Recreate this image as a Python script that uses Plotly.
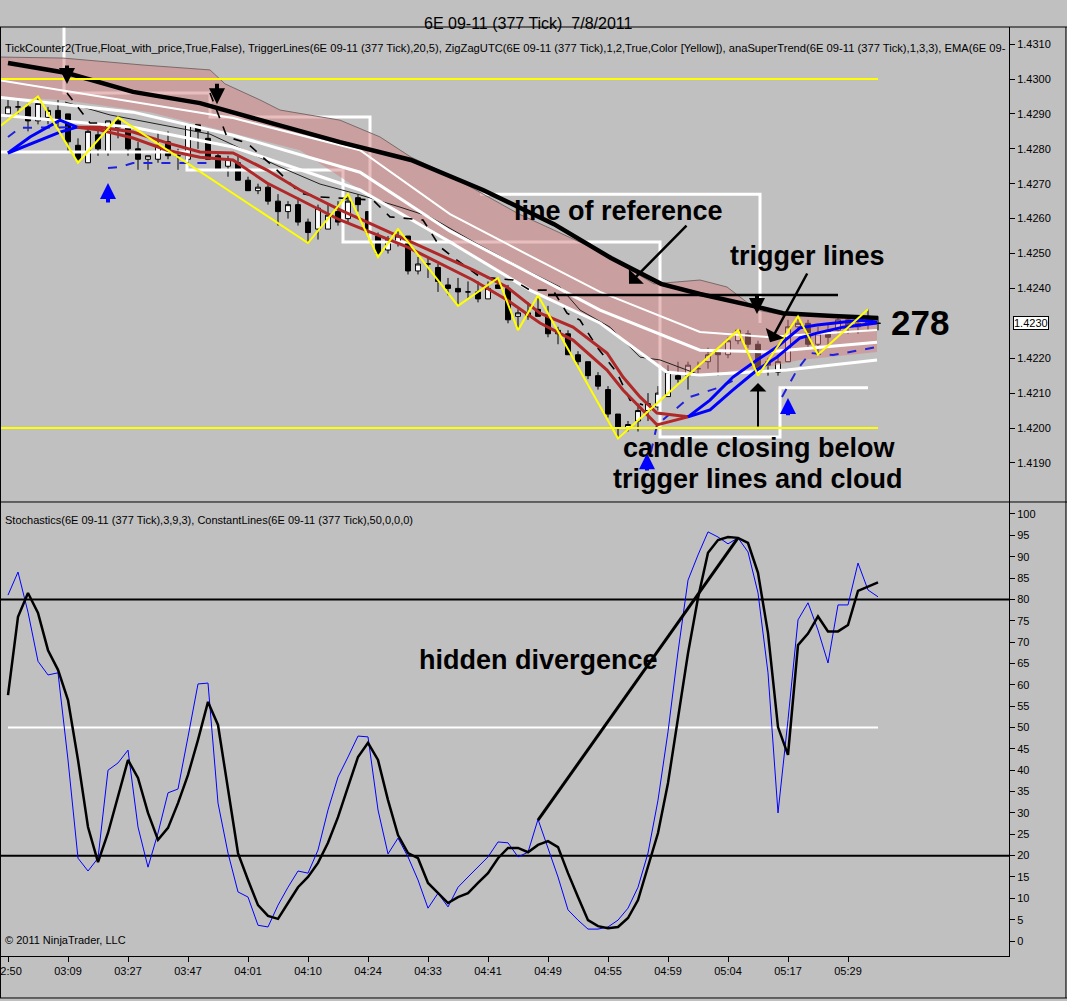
import plotly.graph_objects as go

# ---------------------------------------------------------------------------
# 6E 09-11 (377 Tick) 7/8/2011
# x = bar number (one bar per 377 ticks), time label every 6 bars
# ---------------------------------------------------------------------------
tick_bars = [0, 6, 12, 18, 24, 30, 36, 42, 48, 54, 60, 66, 72, 78, 84]
tick_text = ["02:50", "03:09", "03:27", "03:47", "04:01", "04:10", "04:24", "04:33",
             "04:41", "04:49", "04:55", "04:59", "05:04", "05:17", "05:29"]
price_ticks = [1.4190, 1.4200, 1.4210, 1.4220, 1.4240, 1.4250, 1.4260, 1.4270, 1.4280,
               1.4290, 1.4300, 1.4310]
last_price = 1.4230

bar_open = [1.4290, 1.4292, 1.4292, 1.4288, 1.4289, 1.4291, 1.4290, 1.4281, 1.4276, 1.4284,
            1.4279, 1.4288, 1.4286, 1.4280, 1.4277, 1.4277, 1.4282, 1.4278, 1.4277, 1.4287,
            1.4283, 1.4278, 1.4275, 1.4276, 1.4271, 1.4268, 1.4269, 1.4265, 1.4262, 1.4264,
            1.4259, 1.4257, 1.4257, 1.4262, 1.4260, 1.4266, 1.4262, 1.4255, 1.4251, 1.4253,
            1.4255, 1.4245, 1.4247, 1.4246, 1.4241, 1.4240, 1.4239, 1.4239, 1.4237, 1.4241,
            1.4240, 1.4232, 1.4232, 1.4234, 1.4232, 1.4227, 1.4227, 1.4221, 1.4219, 1.4215,
            1.4211, 1.4204, 1.4200, 1.4202, 1.4205, 1.4206, 1.4209, 1.4215, 1.4215, 1.4217,
            1.4219, 1.4222, 1.4221, 1.4225, 1.4227, 1.4224, 1.4219, 1.4216, 1.4219, 1.4229,
            1.4230, 1.4224, 1.4228, 1.4228, 1.4231, 1.4229, 1.4232, 1.4230]
bar_high = [1.4294, 1.4294, 1.4293, 1.4295, 1.4292, 1.4294, 1.4290, 1.4283, 1.4286, 1.4286,
            1.4288, 1.4289, 1.4286, 1.4282, 1.4278, 1.4285, 1.4285, 1.4280, 1.4287, 1.4287,
            1.4285, 1.4279, 1.4278, 1.4278, 1.4272, 1.4270, 1.4270, 1.4267, 1.4265, 1.4266,
            1.4260, 1.4264, 1.4264, 1.4265, 1.4267, 1.4267, 1.4262, 1.4256, 1.4255, 1.4257,
            1.4255, 1.4249, 1.4249, 1.4247, 1.4243, 1.4243, 1.4242, 1.4242, 1.4242, 1.4243,
            1.4241, 1.4234, 1.4236, 1.4238, 1.4235, 1.4229, 1.4228, 1.4222, 1.4219, 1.4216,
            1.4212, 1.4204, 1.4202, 1.4207, 1.4210, 1.4212, 1.4218, 1.4219, 1.4219, 1.4219,
            1.4223, 1.4223, 1.4226, 1.4228, 1.4228, 1.4225, 1.4220, 1.4221, 1.4231, 1.4232,
            1.4231, 1.4229, 1.4230, 1.4232, 1.4232, 1.4232, 1.4234, 1.4232]
bar_low = [1.4289, 1.4290, 1.4285, 1.4287, 1.4287, 1.4286, 1.4279, 1.4276, 1.4276, 1.4278,
           1.4278, 1.4283, 1.4278, 1.4274, 1.4274, 1.4276, 1.4277, 1.4274, 1.4276, 1.4280,
           1.4277, 1.4274, 1.4272, 1.4271, 1.4268, 1.4267, 1.4264, 1.4258, 1.4260, 1.4258,
           1.4253, 1.4254, 1.4257, 1.4258, 1.4259, 1.4262, 1.4255, 1.4249, 1.4250, 1.4252,
           1.4244, 1.4244, 1.4243, 1.4239, 1.4238, 1.4235, 1.4237, 1.4236, 1.4237, 1.4240,
           1.4230, 1.4228, 1.4231, 1.4232, 1.4226, 1.4224, 1.4221, 1.4218, 1.4214, 1.4211,
           1.4203, 1.4197, 1.4199, 1.4199, 1.4202, 1.4205, 1.4209, 1.4213, 1.4211, 1.4215,
           1.4217, 1.4215, 1.4220, 1.4224, 1.4223, 1.4215, 1.4215, 1.4215, 1.4219, 1.4228,
           1.4223, 1.4221, 1.4224, 1.4227, 1.4227, 1.4227, 1.4228, 1.4228]
bar_close = [1.4292, 1.4292, 1.4288, 1.4293, 1.4291, 1.4288, 1.4282, 1.4277, 1.4285, 1.4280,
             1.4288, 1.4286, 1.4280, 1.4277, 1.4278, 1.4281, 1.4278, 1.4278, 1.4287, 1.4285,
             1.4277, 1.4274, 1.4277, 1.4271, 1.4268, 1.4269, 1.4265, 1.4262, 1.4264, 1.4259,
             1.4256, 1.4263, 1.4261, 1.4259, 1.4265, 1.4264, 1.4256, 1.4250, 1.4254, 1.4255,
             1.4245, 1.4247, 1.4247, 1.4242, 1.4240, 1.4239, 1.4239, 1.4237, 1.4240, 1.4240,
             1.4231, 1.4233, 1.4233, 1.4232, 1.4227, 1.4228, 1.4221, 1.4219, 1.4215, 1.4212,
             1.4204, 1.4200, 1.4201, 1.4205, 1.4207, 1.4210, 1.4216, 1.4214, 1.4218, 1.4217,
             1.4221, 1.4221, 1.4225, 1.4228, 1.4224, 1.4217, 1.4218, 1.4219, 1.4229, 1.4230,
             1.4224, 1.4227, 1.4226, 1.4231, 1.4229, 1.4230, 1.4230, 1.4230]

# EMA (thick black)
ema_x = [0, 5.9, 12.5, 19.2, 25.9, 33.2, 40.3, 47.5, 54.6, 60.3, 65.3, 69.2, 74.9, 77.5, 82.5, 87]
ema_y = [1.43046, 1.43017, 1.42963, 1.42931, 1.42877, 1.42819, 1.42768, 1.42682, 1.42584,
         1.42487, 1.42413, 1.42384, 1.42347, 1.42329, 1.42321, 1.42315]

# anaSuperTrend cloud
cloud_top_x = [-1, 5.5, 13.5, 20.2, 21.7, 25.2, 27.2, 33.2, 37.2, 40.3, 43.9, 47.5, 51.1,
               54.6, 58.2, 61.8, 64.6, 69.2, 71.9, 74.9, 77.5, 86.9]
cloud_top_y = [1.43063, 1.43060, 1.43040, 1.43026, 1.42986, 1.42940, 1.42911, 1.42882,
               1.42834, 1.42776, 1.42728, 1.42670, 1.42613, 1.42567, 1.42519, 1.42461,
               1.42413, 1.42424, 1.42404, 1.42338, 1.42324, 1.42318]
cloud_low_x = [-1, 5.6, 14.2, 29.2, 35.2, 44.2, 52.2, 59.2, 65.9, 69.2, 75.9, 79.2, 86.9]
cloud_low_y = [1.42948, 1.42940, 1.42905, 1.42796, 1.42682, 1.42539, 1.42395, 1.42301,
               1.42166, 1.42152, 1.42175, 1.42195, 1.42218]
band_low_x = [5.7, 10.2, 20.2, 27.2, 31.2, 35.2, 39.2, 42.2, 46.2, 51.2, 55.2, 57.2, 60.2,
              63.2, 65.2, 69.2]
band_low_y = [1.42934, 1.42897, 1.42842, 1.42748, 1.42699, 1.42668, 1.42633, 1.42605,
              1.42539, 1.42461, 1.42404, 1.42338, 1.42289, 1.42203, 1.42195, 1.42152]

# white average lines inside the cloud
white_x = [-1, 12.5, 22.5, 35.2, 44.2, 52.2, 59.2, 69.2, 75.9, 86.9]
white1_y = [1.42997, 1.42934, 1.42888, 1.42796, 1.42613, 1.42493, 1.42390, 1.42275,
            1.42261, 1.42281]
white2_y = [1.42948, 1.42905, 1.42839, 1.42733, 1.42564, 1.42444, 1.42338, 1.42223,
            1.42218, 1.42246]
white3_x = [-1, 12.5, 22.5, 35.2, 44.2, 52.2, 59.2, 65.9, 69.2, 77.9, 86.9]
white3_y = [1.42897, 1.42862, 1.42805, 1.42682, 1.42533, 1.42395, 1.42301, 1.42160,
            1.42152, 1.42166, 1.42195]

# white step lines
step_up_x = [-1, 5.6, 5.6, 20.2, 20.2, 36.2, 36.2, None, 47.2, 75.2, 75.2]
step_up_y = [1.4316, 1.4316, 1.42960, 1.42960, 1.42891, 1.42891, 1.42533, None,
             1.42670, 1.42670, 1.42301]
step_dn_x = [-1, 17.9, 17.9, 33.5, 33.5, 65.2, 65.2, 77.2, 77.2, 86.0]
step_dn_y = [1.42791, 1.42791, 1.42739, 1.42739, 1.42533, 1.42533, 1.41974, 1.41974,
             1.42115, 1.42115]

# trigger lines (red while falling, blue while rising)
red_x = [6.9, 9.2, 12.5, 15.9, 19.2, 22.5, 25.9, 29.2, 33.2, 39.9, 46.5, 49.9, 53.2,
         56.5, 59.9, 61.5, 63.2, 64.9, 68.0]
red1_y = [1.42862, 1.42862, 1.42848, 1.42817, 1.42791, 1.42788, 1.42739, 1.42682, 1.42625,
          1.42539, 1.42453, 1.42404, 1.42329, 1.42289, 1.42215, 1.42146, 1.42089, 1.42043,
          1.42032]
red2_y = [1.42862, 1.42854, 1.42831, 1.42796, 1.42776, 1.42768, 1.42702, 1.42653, 1.42596,
          1.42519, 1.42424, 1.42367, 1.42301, 1.42252, 1.42166, 1.42109, 1.42060, 1.42009,
          1.42032]
blue1_x = [0, 2.2, 5.2, 6.9, None, 68.0, 70.2, 72.5, 74.9, 76.9, 79.2, 80.9, 85.2, 86.9]
blue1_y = [1.42788, 1.42834, 1.42882, 1.42862, None, 1.42032, 1.42080, 1.42146, 1.42195,
           1.42232, 1.42287, 1.42295, 1.42309, 1.42304]
blue2_x = [0, 3.2, 5.2, 6.9, None, 68.0, 70.2, 72.5, 74.9, 76.9, 79.2, 80.9, 83.5, 86.9]
blue2_y = [1.42788, 1.42825, 1.42848, 1.42862, None, 1.42032, 1.42052, 1.42109, 1.42166,
           1.42203, 1.42258, 1.42272, 1.42289, 1.42301]

# supertrend stop lines (dashed)
blue_dash_x = [0, 1.2, 6.9, None, 10.0, 11.2, 12.5, 20.0, None, 63.9, 64.9, 68.2, 71.2,
               73.2, None, 77.4, 78.9, 80.2, 82.5, 86.9]
blue_dash_y = [1.42834, 1.42860, 1.42862, None, 1.42745, 1.42748, 1.42759, 1.42759, None,
               1.41880, 1.42009, 1.42089, 1.42117, 1.42146, None, 1.42089, 1.42166,
               1.42215, 1.42209, 1.42232]
black_dash_x = [5.9, 8.2, 9.2, None, 20.2, 21.9, 23.9, 26.9, 29.2, 31.2, 36.5, 38.2, 41.5,
                43.2, 44.9, 47.2, 50.5, 52.2, 54.5, 55.9, 57.2, 58.9, 60.9, 62.2, 63.5]
black_dash_y = [1.42960, 1.42874, 1.42874, None, 1.42960, 1.42834, 1.42817, 1.42739,
                1.42673, 1.42662, 1.42653, 1.42605, 1.42596, 1.42519, 1.42481, 1.42433,
                1.42424, 1.42395, 1.42395, 1.42329, 1.42309, 1.42232, 1.42158, 1.42080,
                1.42066]

# ZigZag swing points
zz_x = [-1, 3, 7, 11, 30, 34, 37, 39, 45, 49, 51, 53, 61, 73, 75, 79, 81, 86]
zz_y = [1.4286, 1.4295, 1.4276, 1.4289, 1.4253, 1.4267, 1.4249, 1.4257, 1.4235, 1.4243,
        1.4228, 1.4238, 1.4197, 1.4228, 1.4215, 1.4232, 1.4221, 1.4234]
yellow_levels = [1.4300, 1.4200]

# signal arrows: (bar, tail price, tip price)
down_arrows = [(5.9, 1.43043, 1.42986), (20.9, 1.42991, 1.42928), (74.9, 1.42384, 1.42327)]
up_arrows = [(10.0, 1.42642, 1.42702), (63.9, 1.41874, 1.41928), (78.0, 1.42032, 1.42086)]

# hand drawn notes
ref_line_x = [54, 83]
ref_line_y = [1.42381, 1.42381]

# Stochastics(3,9,3)
stoch_k = [81.0, 86.4, 77.0, 65.5, 62.3, 62.8, 42.4, 19.4, 16.4, 19.4, 40.0, 41.7, 44.7,
           26.7, 17.3, 25.3, 34.7, 35.6, 47.8, 60.2, 60.4, 32.3, 20.6, 11.5, 10.3, 3.7, 3.3,
           8.4, 12.6, 16.4, 15.9, 21.3, 30.7, 38.4, 43.1, 48.0, 47.8, 30.7, 20.4, 24.1, 19.7,
           14.3, 7.7, 11.2, 8.0, 12.6, 15.0, 17.3, 19.7, 23.2, 23.0, 19.7, 20.8, 28.5, 22.0,
           15.0, 7.3, 4.9, 2.8, 2.8, 3.3, 4.9, 7.7, 12.6, 20.6, 33.0, 49.0, 67.7, 84.5, 90.4,
           95.8, 94.6, 93.0, 94.4, 91.1, 81.5, 62.8, 30.0, 51.8, 75.2, 79.2, 72.8, 65.1, 78.7,
           78.7, 88.5, 82.2, 80.6]
stoch_d = [57.6, 75.9, 81.5, 76.8, 68.1, 63.5, 56.4, 42.4, 26.7, 18.5, 25.3, 33.7, 42.4,
           38.2, 30.0, 23.7, 26.5, 32.3, 38.9, 47.1, 56.0, 50.6, 36.1, 20.6, 14.3, 8.4, 5.9,
           5.2, 8.9, 12.6, 15.0, 18.3, 23.0, 29.0, 36.1, 43.1, 46.4, 42.4, 33.0, 24.8, 20.6,
           19.4, 13.6, 11.2, 8.9, 10.3, 11.2, 13.6, 15.9, 19.4, 21.8, 21.8, 20.8, 22.5, 23.4,
           22.0, 15.9, 10.3, 4.9, 3.5, 3.0, 3.3, 5.4, 9.6, 17.3, 25.3, 37.0, 52.0, 67.4, 80.3,
           90.9, 93.9, 94.6, 94.4, 93.2, 86.2, 72.1, 50.1, 43.6, 69.3, 72.0, 76.0, 72.5, 72.5,
           74.0, 82.0, 83.0, 84.0]
div_x = [53, 73]
div_y = [28.3, 94.4]

GRAY = "#C0C0C0"
FONT = "Liberation Sans, Arial"


def line(x, y, color, width, dash="solid", yaxis="y", **kw):
    return go.Scatter(x=x, y=y, mode="lines", yaxis=yaxis, hoverinfo="skip",
                      line=dict(color=color, width=width, dash=dash), **kw)


def main() -> None:
    bars = list(range(len(bar_open)))
    fig = go.Figure()

    # price panel ------------------------------------------------------------
    fig.add_trace(line(step_up_x, step_up_y, "white", 3))
    fig.add_trace(line(step_dn_x, step_dn_y, "white", 3))
    fig.add_trace(line(cloud_low_x, cloud_low_y, "rgba(0,0,0,0)", 0))
    fig.add_trace(line(cloud_top_x, cloud_top_y, "#7a6a6a", 1, fill="tonexty",
                       fillcolor="rgba(212,126,126,0.5)"))
    fig.add_trace(line(band_low_x, band_low_y, "#222222", 1))
    fig.add_trace(line(white_x, white1_y, "white", 2))
    fig.add_trace(line(white_x, white2_y, "white", 3))
    fig.add_trace(line(white3_x, white3_y, "white", 3))
    fig.add_trace(line(ema_x, ema_y, "black", 4.5))
    fig.add_trace(line(black_dash_x, black_dash_y, "black", 1.6, dash="dash"))
    fig.add_trace(line(blue_dash_x, blue_dash_y, "#2020e0", 2, dash="dash"))
    fig.add_trace(line(red_x, red1_y, "#b02828", 3))
    fig.add_trace(line(red_x, red2_y, "#b02828", 3))
    fig.add_trace(line(blue1_x, blue1_y, "#0000ff", 3))
    fig.add_trace(line(blue2_x, blue2_y, "#0000ff", 3))
    fig.add_trace(go.Candlestick(
        x=bars, open=bar_open, high=bar_high, low=bar_low, close=bar_close,
        increasing=dict(line=dict(color="black", width=1), fillcolor="white"),
        decreasing=dict(line=dict(color="black", width=1), fillcolor="black"),
        whiskerwidth=0, hoverinfo="skip"))
    for lvl in yellow_levels:
        fig.add_trace(line([-1, 87], [lvl, lvl], "#ffff00", 2))
    fig.add_trace(line(zz_x, zz_y, "#ffff00", 2))
    fig.add_trace(line(ref_line_x, ref_line_y, "black", 2.5))

    # stochastics panel ------------------------------------------------------
    fig.add_trace(line([-1, 101], [80, 80], "black", 2, yaxis="y2"))
    fig.add_trace(line([-1, 101], [20, 20], "black", 2, yaxis="y2"))
    fig.add_trace(line([0, 87], [50, 50], "white", 2, yaxis="y2"))
    fig.add_trace(line(bars, stoch_k, "#0000ff", 1, yaxis="y2"))
    fig.add_trace(line(bars, stoch_d, "black", 2.5, yaxis="y2"))
    fig.add_trace(line(div_x, div_y, "black", 3, yaxis="y2"))

    notes = []
    for bx, tail, tip in down_arrows:
        notes.append(dict(x=bx, y=tip, ax=bx, ay=tail, xref="x", yref="y", axref="x",
                          ayref="y", text="", showarrow=True, arrowhead=2, arrowsize=0.8,
                          arrowwidth=4, arrowcolor="black"))
    for bx, tail, tip in up_arrows:
        notes.append(dict(x=bx, y=tip, ax=bx, ay=tail, xref="x", yref="y", axref="x",
                          ayref="y", text="", showarrow=True, arrowhead=2, arrowsize=0.8,
                          arrowwidth=4, arrowcolor="#0000ff"))
    # hand drawn pointers
    for (tx, ty, hx, hy, w) in [(68.0, 1.42584, 62.1, 1.42413, 2.5),
                                (80.0, 1.42447, 76.2, 1.42246, 2.5),
                                (75.0, 1.42000, 75.0, 1.42129, 2)]:
        notes.append(dict(x=hx, y=hy, ax=tx, ay=ty, xref="x", yref="y", axref="x",
                          ayref="y", text="", showarrow=True, arrowhead=1, arrowsize=1.4,
                          arrowwidth=w, arrowcolor="black"))

    big = dict(family=FONT, size=27, color="black")
    small = dict(family=FONT, size=11, color="black")
    notes += [
        dict(x=61.05, y=1.42622, xref="x", yref="y", text="<b>line of reference</b>",
             showarrow=False, font=big),
        dict(x=79.9, y=1.42493, xref="x", yref="y", text="<b>trigger lines</b>",
             showarrow=False, font=big),
        dict(x=91.2, y=1.42301, xref="x", yref="y", text="<b>278</b>",
             showarrow=False, font=dict(family=FONT, size=35, color="black")),
        dict(x=75.1, y=1.41943, xref="x", yref="y", text="<b>candle closing below</b>",
             showarrow=False, font=big),
        dict(x=75.0, y=1.41854, xref="x", yref="y", text="<b>trigger lines and cloud</b>",
             showarrow=False, font=big),
        dict(x=53.0, y=65.8, xref="x", yref="y2", text="<b>hidden divergence</b>",
             showarrow=False, font=big),
        dict(x=1.0, y=last_price, xref="paper", yref="y", xanchor="left", xshift=4,
             text=f"{last_price:.4f}", showarrow=False, bgcolor="white",
             bordercolor="black", borderwidth=1, borderpad=0, font=small),
        # texts outside the data area
        dict(x=0.5233, y=1.0151, xref="paper", yref="paper", showarrow=False,
             text="6E 09-11 (377 Tick) \u00a07/8/2011",
             font=dict(family=FONT, size=16, color="black")),
        # indicator list, cut at the price axis as on screen
        dict(x=0.002, y=0.986, xref="paper", yref="paper", xanchor="left", showarrow=False,
             text="TickCounter2(True,Float_with_price,True,False), TriggerLines(6E 09-11 "
                  "(377 Tick),20,5), ZigZagUTC(6E 09-11 (377 Tick),1,2,True,Color [Yellow]),"
                  " anaSuperTrend(6E 09-11 (377 Tick),1,3,3), EMA(6E 09-",
             font=dict(family=FONT, size=11.2, color="black")),
        dict(x=0.002, y=0.4693, xref="paper", yref="paper", xanchor="left", showarrow=False,
             text="Stochastics(6E 09-11 (377 Tick),3,9,3), ConstantLines(6E 09-11 "
                  "(377 Tick),50,0,0,0)", font=small),
        dict(x=0.002, y=0.0086, xref="paper", yref="paper", xanchor="left", showarrow=False,
             text="\u00a9 2011 NinjaTrader, LLC", font=small),
    ]

    frame = dict(type="line", xref="paper", yref="paper", line=dict(color="black", width=1))
    shapes = [
        dict(frame, x0=-0.001, x1=1.0575, y0=1.0, y1=1.0),
        dict(frame, x0=-0.001, x1=1.0575, y0=0.4887, y1=0.4887),
        dict(frame, x0=-0.001, x1=1.0575, y0=-0.0452, y1=-0.0452),
        dict(frame, x0=-0.0005, x1=-0.0005, y0=-0.0452, y1=1.0),
        dict(frame, x0=1.0565, x1=1.0565, y0=-0.0452, y1=1.0),
    ]

    axis_font = dict(family=FONT, size=11, color="black")
    yax = dict(side="right", showline=True, linecolor="black", linewidth=1, ticks="outside",
               ticklen=5, tickcolor="black", tickfont=axis_font, showgrid=False,
               zeroline=False, anchor="x", fixedrange=True)
    fig.update_layout(
        width=1067, height=1001, showlegend=False,
        paper_bgcolor=GRAY, plot_bgcolor=GRAY,
        margin=dict(l=1, r=58, t=27, b=45, autoexpand=False),
        xaxis=dict(domain=[0, 1], anchor="y2", range=[-0.7, 100.1], tickvals=tick_bars,
                   ticktext=tick_text, ticks="outside", ticklen=5, tickcolor="black",
                   tickfont=axis_font, showline=True, linecolor="black", showgrid=False,
                   zeroline=False, rangeslider=dict(visible=False),
                   ticklabeloverflow="allow"),
        yaxis=dict(yax, domain=[0.4887, 1.0], range=[1.41788, 1.43149],
                   tickvals=price_ticks, tickformat=".4f"),
        yaxis2=dict(yax, domain=[0.0, 0.4887], range=[-3.5, 102.8],
                    tickvals=list(range(0, 101, 5))),
        annotations=notes, shapes=shapes,
    )
    fig.write_html("out.html", config={"displayModeBar": False},
                   post_script="document.body.style.margin='0px';")


if __name__ == "__main__":
    main()
